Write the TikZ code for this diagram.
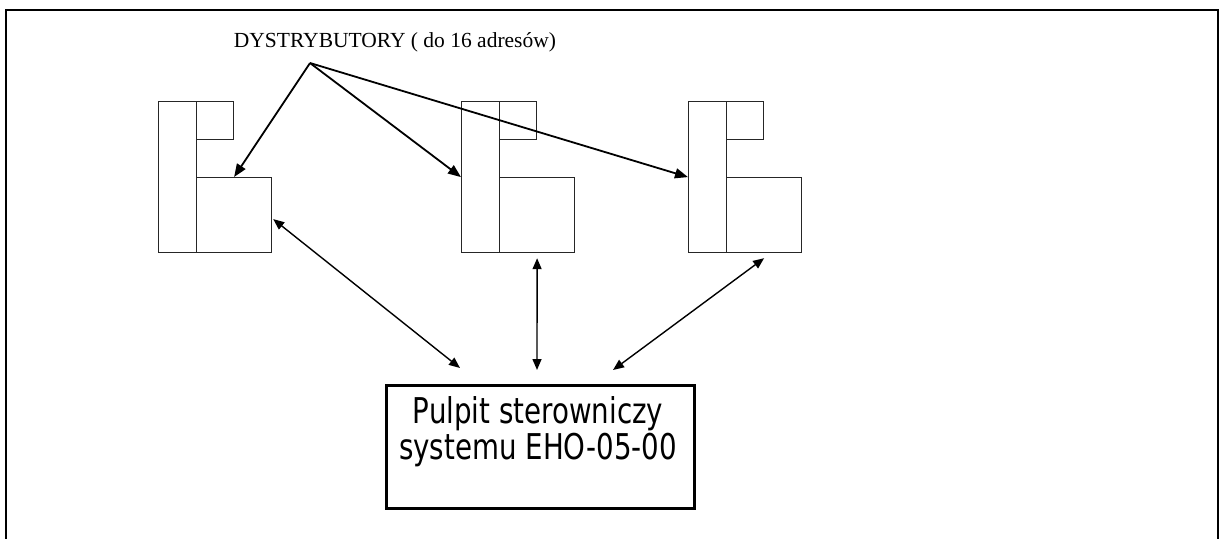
\documentclass[tikz,border=0pt]{standalone}
\usepackage{fontspec}
\setmainfont{Liberation Serif}
\newfontfamily\pulpitfont[FakeStretch=0.78]{DejaVu Sans}
\usetikzlibrary{arrows.meta,calc}

\begin{document}
\begin{tikzpicture}[x=1pt,y=-1pt,
  part/.style={draw=black!85,line width=1.2pt,inner sep=0pt,anchor=north west},
  pointer/.style={line width=1.8pt,-{Triangle[length=13pt,width=10pt]}},
  link/.style={line width=1.4pt,{Triangle[length=11pt,width=9pt]}-{Triangle[length=11pt,width=9pt]}},
  console/.style={draw,line width=3pt,inner sep=0pt,anchor=north west,minimum width=308pt,minimum height=123pt}]

\useasboundingbox (0,0) rectangle (1220,538);

% outer frame (open at the bottom)
\draw[line width=2pt] (6,540) -- (6,10) -- (1218,10) -- (1218,540);

% heading
\node[anchor=base,inner sep=0pt,font=\fontsize{21.5}{24}\selectfont] (title) at (395,47)
  {DYSTRYBUTORY ( do 16 adresów)};
\coordinate (src) at (310,63);

% three distributors: tall column, small upper box, large lower box
\foreach \i/\x in {1/158, 2/461, 3/688}{
  \node[part,minimum width=38pt,minimum height=151pt] (d\i tall) at (\x,101) {};
  \node[part,minimum width=37pt,minimum height=38pt] (d\i small) at (\x+38,101) {};
  \node[part,minimum width=75pt,minimum height=75pt] (d\i big) at (\x+38,177) {};
}

% control console
\node[console] (pulpit) at (385,384) {};
\node[anchor=base,inner sep=0pt,font=\pulpitfont\fontsize{35.5}{36}\selectfont] (ptxt1) at (538,423) {Pulpit sterowniczy};
\node[anchor=base,inner sep=0pt,font=\pulpitfont\fontsize{35.5}{36}\selectfont] (ptxt2) at (538,459) {systemu EHO-05-00};

% pointers from the heading to each distributor
\draw[pointer] (src) -- (d1big.north);
\draw[pointer] (src) -- (d2tall.west);
\draw[pointer] (src) -- (d3tall.west);

% two-way links between the distributors and the console
\coordinate (c1) at ($(pulpit.north west)+(75,-16)$);
\coordinate (c2) at ($(pulpit.north west)+(152,-14)$);
\coordinate (c3) at ($(pulpit.north west)+(228,-14)$);
\draw[link] ($(d1big.east)+(1,4)$) -- (c1);
\draw[link] ($(d2big.south)+(0,5)$) -- (c2);
\draw[link] ($(d3big.south)+(0,5)$) -- (c3);

\end{tikzpicture}
\end{document}
